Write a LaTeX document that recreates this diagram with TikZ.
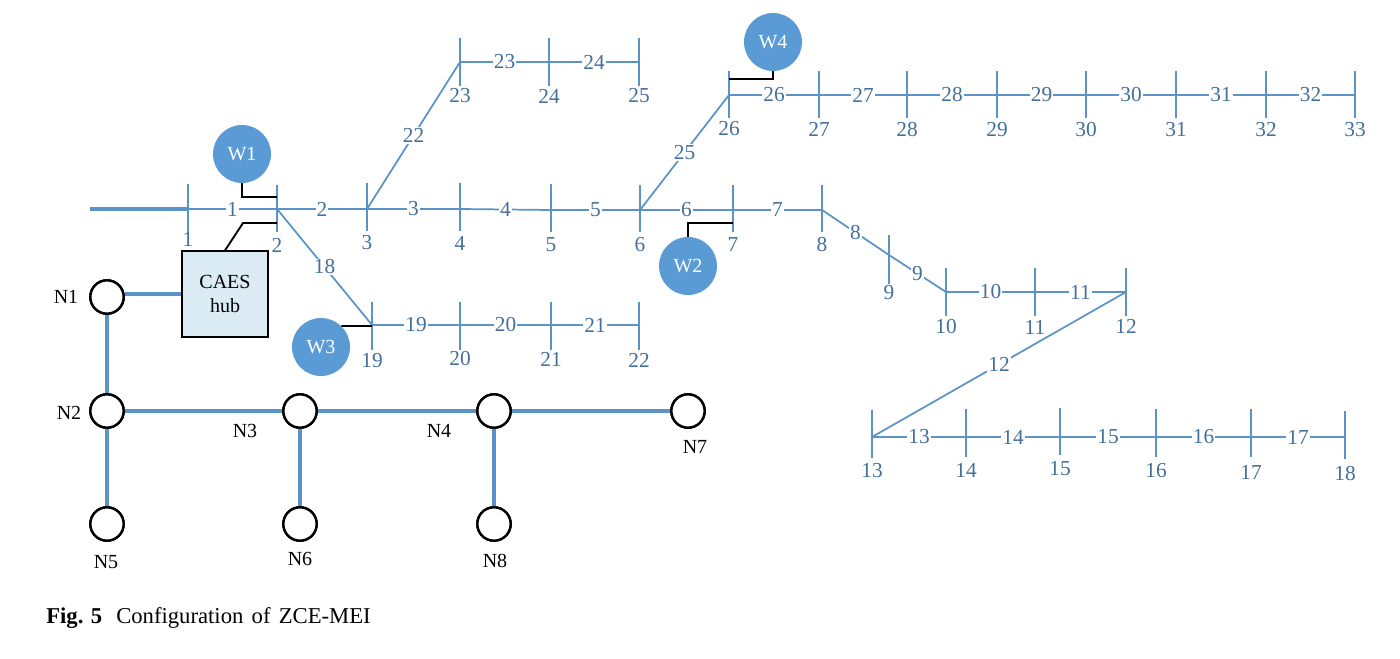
\documentclass[tikz,border=0pt]{standalone}
\usepackage{fontspec}
\setmainfont{Liberation Serif}
\definecolor{lineblue}{HTML}{5B93C7}
\definecolor{textblue}{HTML}{44709C}
\definecolor{windblue}{HTML}{5B9BD5}
\definecolor{hubfill}{HTML}{DAEBF3}
\tikzset{
  busline/.style={draw=lineblue,line width=1.3pt},
  feeder/.style={draw=lineblue,line width=2.35pt},
  linelabel/.style={fill=white,text=textblue,inner sep=0.8pt,font=\fontsize{16}{18}\selectfont},
  buslabel/.style={text=textblue,inner sep=0pt,font=\fontsize{16}{18}\selectfont},
  windgen/.style={circle,fill=windblue,text=white,minimum size=43.5pt,inner sep=0pt,font=\fontsize{15}{17}\selectfont},
  netnode/.style={circle,draw=black,fill=white,line width=1.8pt,minimum size=25pt,inner sep=0pt},
  netlabel/.style={inner sep=0pt,font=\fontsize{15}{17}\selectfont},
  tie/.style={draw=black,line width=1.4pt},
  hubbox/.style={draw=black,line width=0.85pt,fill=hubfill,minimum width=64.5pt,minimum height=64.5pt,inner sep=0pt,align=center,font=\fontsize{15}{18}\selectfont},
  captext/.style={anchor=west,inner sep=0pt,font=\fontsize{17}{20}\selectfont}
}
% id, x, top, bottom, centre y, label y
\newcommand{\mybus}[6]{%
  \coordinate (b#1) at (#2,#5);
  \coordinate (b#1t) at (#2,#3);
  \coordinate (b#1b) at (#2,#4);
  \draw[busline] (b#1t) -- (b#1b);
  \node[buslabel] (bl#1) at (#2,#6) {#1};
}
\newcommand{\myline}[3]{\draw[busline] (b#1) -- node[linelabel] (l#3) {#3} (b#2);}
\begin{document}
\begin{tikzpicture}[x=0.75pt,y=-0.75pt]
\useasboundingbox (0,0) rectangle (1400,659);
\fill[white] (0,0) rectangle (1400,659);
% buses
\mybus{1}{188}{184}{234}{209}{239}
\mybus{2}{277}{185}{232}{209}{245}
\mybus{3}{367}{183}{231}{209}{243}
\mybus{4}{460}{183}{231}{209}{243}
\mybus{5}{551}{184}{232}{210}{245}
\mybus{6}{640}{185}{232}{210}{245}
\mybus{7}{733}{185}{232}{210}{245}
\mybus{8}{822}{185}{232}{210}{245}
\mybus{9}{889}{235}{284}{255}{293}
\mybus{10}{946}{268}{316}{292}{327}
\mybus{11}{1035}{268}{316}{292}{327}
\mybus{12}{1126}{268}{316}{292}{326}
\mybus{13}{872}{410}{458}{437}{471}
\mybus{14}{966}{409}{457}{437}{470}
\mybus{15}{1060}{408}{455}{437}{469}
\mybus{16}{1156}{409}{457}{437}{471}
\mybus{17}{1251}{409}{457}{437}{472}
\mybus{18}{1345}{411}{459}{437}{474}
\mybus{19}{372}{302}{350}{325}{361}
\mybus{20}{460}{302}{350}{325}{359}
\mybus{21}{551}{302}{350}{325}{359}
\mybus{22}{639}{302}{350}{325}{360}
\mybus{23}{460}{38}{86}{62}{96}
\mybus{24}{549}{38}{86}{62}{96}
\mybus{25}{639}{38}{86}{62}{96}
\mybus{26}{729}{71}{118}{95}{129}
\mybus{27}{819}{71}{118}{95}{129}
\mybus{28}{907}{71}{118}{95}{130}
\mybus{29}{997}{71}{118}{95}{130}
\mybus{30}{1086}{71}{118}{95}{130}
\mybus{31}{1176}{71}{118}{95}{130}
\mybus{32}{1266}{71}{118}{95}{130}
\mybus{33}{1355}{71}{118}{95}{130}
% feeder sections
\myline{1}{2}{1}
\myline{2}{3}{2}
\myline{3}{4}{3}
\myline{4}{5}{4}
\myline{5}{6}{5}
\myline{6}{7}{6}
\myline{7}{8}{7}
\myline{8}{9}{8}
\myline{9}{10}{9}
\myline{10}{11}{10}
\myline{11}{12}{11}
\myline{12}{13}{12}
\myline{13}{14}{13}
\myline{14}{15}{14}
\myline{15}{16}{15}
\myline{16}{17}{16}
\myline{17}{18}{17}
\myline{2}{19}{18}
\myline{19}{20}{19}
\myline{20}{21}{20}
\myline{21}{22}{21}
\myline{3}{23}{22}
\myline{23}{24}{23}
\myline{24}{25}{24}
\myline{6}{26}{25}
\myline{26}{27}{26}
\myline{27}{28}{27}
\myline{28}{29}{28}
\myline{29}{30}{29}
\myline{30}{31}{30}
\myline{31}{32}{31}
\myline{32}{33}{32}
\coordinate (src) at (90,209);
\draw[feeder] (src) -- (b1);
% wind units
\node[windgen] (w1) at (242,154) {W1};
\node[windgen] (w2) at (688,266) {W2};
\node[windgen] (w3) at (321,347) {W3};
\node[windgen] (w4) at (773,42) {W4};
\coordinate (t1) at (277,197);
\coordinate (t2) at (733,223);
\coordinate (t3) at (372,326);
\coordinate (t4) at (729,79);
\coordinate (t5) at (277,223);
\draw[tie] (w1.south) |- (t1);
\draw[tie] (w2.north) |- (t2);
\draw[tie] (w3.46) -- (t3);
\draw[tie] (w4.south) |- (t4);
% hub
\node[hubbox] (caes) at (225,294) {CAES\\hub};
\coordinate (kink) at (243,223);
\draw[tie] (caes.north) -- (kink) -- (t5);
% gas / heat network
\node[netnode] (n1) at (107,297) {};
\node[netnode] (n2) at (107,411) {};
\node[netnode] (n3) at (300,411) {};
\node[netnode] (n4) at (494,411) {};
\node[netnode] (n7) at (688,411) {};
\node[netnode] (n5) at (107,524) {};
\node[netnode] (n6) at (300,524) {};
\node[netnode] (n8) at (494,524) {};
\draw[feeder] (caes.west) -- (caes.west -| n1.east);
\draw[feeder] (n1) -- (n2);
\draw[feeder] (n2) -- (n3);
\draw[feeder] (n3) -- (n4);
\draw[feeder] (n4) -- (n7);
\draw[feeder] (n2) -- (n5);
\draw[feeder] (n3) -- (n6);
\draw[feeder] (n4) -- (n8);
\node[netnode] at (n1) {};
\node[netnode] at (n2) {};
\node[netnode] at (n3) {};
\node[netnode] at (n4) {};
\node[netnode] at (n5) {};
\node[netnode] at (n6) {};
\node[netnode] at (n7) {};
\node[netnode] at (n8) {};
\node[netlabel] (ln1) at (66,297) {N1};
\node[netlabel] (ln2) at (69,413) {N2};
\node[netlabel] (ln3) at (245,431) {N3};
\node[netlabel] (ln4) at (439,431) {N4};
\node[netlabel] (ln7) at (695,447) {N7};
\node[netlabel] (ln5) at (106,562) {N5};
\node[netlabel] (ln6) at (300,559) {N6};
\node[netlabel] (ln8) at (495,561) {N8};
% caption
\node[captext] (cap) at (46,618) {\textbf{Fig. 5}};
\node[captext] (capb) at (116,618) {\spaceskip=6.2pt Configuration of ZCE-MEI};
\end{tikzpicture}
\end{document}
